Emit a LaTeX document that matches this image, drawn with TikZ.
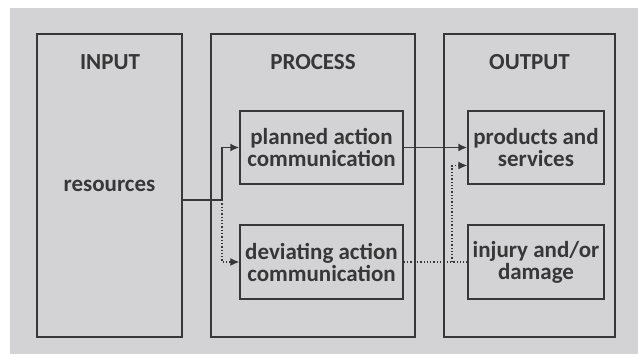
\documentclass[tikz,border=0pt]{standalone}
\usepackage{fontspec}
\setmainfont{Carlito}
\usetikzlibrary{arrows.meta}
\definecolor{bggray}{RGB}{211,211,213}
\definecolor{ink}{RGB}{55,55,55}
\begin{document}
\begin{tikzpicture}[x=1pt,y=-1pt,>={Latex[length=9pt,width=8pt]}]
	\tikzstyle{frame} = [rectangle,draw=ink,line width=1.4pt,inner sep=0pt]
	\tikzstyle{step box} = [frame,text=ink,font=\bfseries\fontsize{23}{22}\selectfont,align=center]
	\tikzstyle{title} = [text=ink,font=\bfseries\fontsize{23}{22}\selectfont]
	\tikzstyle{flow} = [ink,line width=1.8pt]
	\tikzstyle{side flow} = [ink,line width=1.3pt,dotted]
	\useasboundingbox (0,0) rectangle (638,354);
	\fill[bggray] (10,8) rectangle (638,354);
	\node[frame,minimum width=145pt,minimum height=303pt,text=ink,font=\bfseries\fontsize{23}{22}\selectfont](input)at(109.5,185.5){resources};
	\node[frame,minimum width=204pt,minimum height=303pt](process)at(313,185.5){};
	\node[frame,minimum width=171pt,minimum height=303pt](output)at(529.5,185.5){};
	\node[title](input-t)at(110,62){INPUT};
	\node[title](process-t)at(313,62){PROCESS};
	\node[title](output-t)at(529.5,62){OUTPUT};
	\node[step box,minimum width=163pt,minimum height=73pt](planned)at(321.5,147.5){planned action\\communication};
	\node[step box,minimum width=163pt,minimum height=74pt](deviating)at(321.5,262){deviating action\\communication};
	\node[step box,minimum width=136pt,minimum height=73pt](products)at(536,147.5){products and\\services};
	\node[step box,minimum width=136pt,minimum height=74pt](injury)at(536,262){injury and/or\\damage};
	\coordinate (split) at (222,200);
	\coordinate (merge) at (452,262);
	\draw[flow] (input.east |- split) -- (split);
	\draw[flow,->] (split) |- (planned.west);
	\draw[side flow,->] (split) |- (deviating.west);
	\draw[flow,->] (planned) -- (products);
	\draw[side flow] (deviating) -- (injury);
	\draw[side flow,->] (merge) |- ([yshift=-18pt]products.west);
\end{tikzpicture}
\end{document}
